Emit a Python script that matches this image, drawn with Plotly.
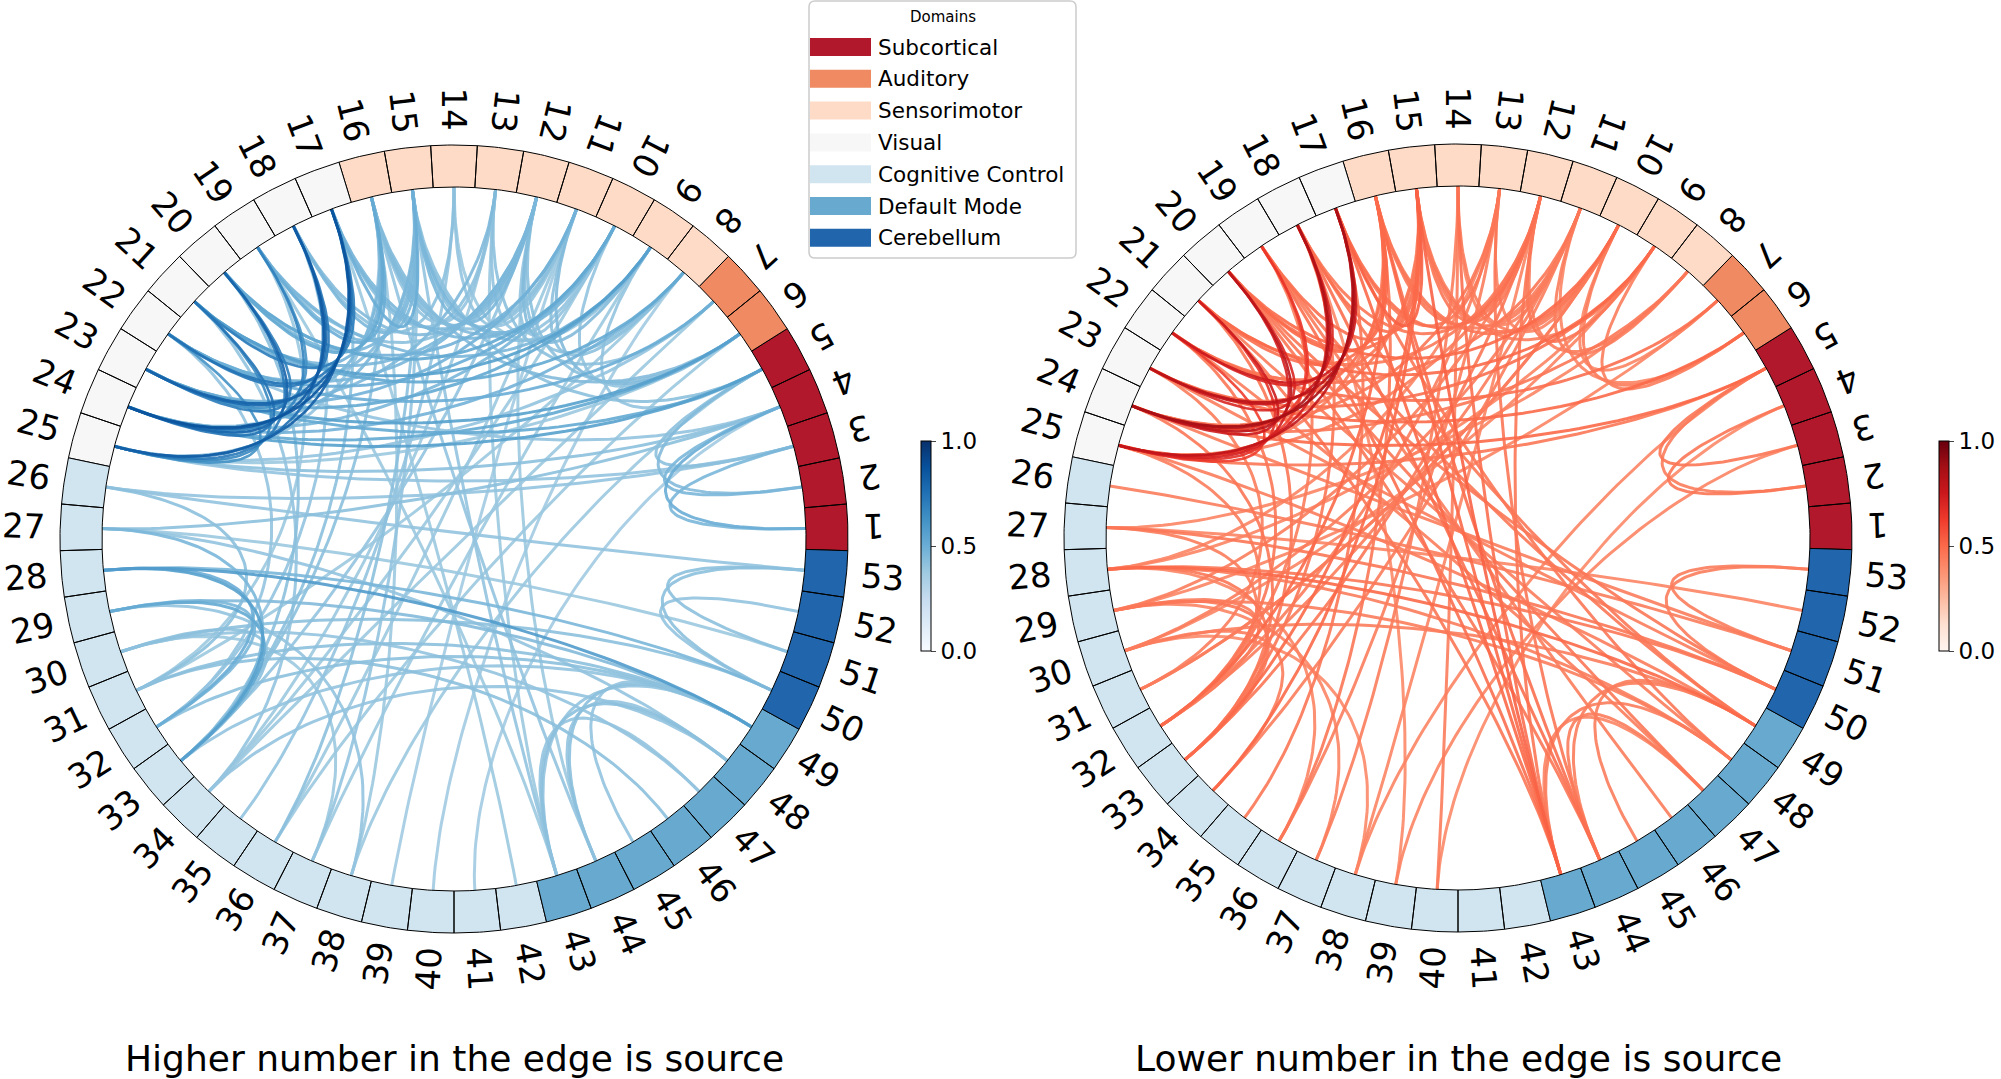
import numpy as np
import plotly.graph_objects as go
from plotly.colors import sample_colorscale

W, H = 2001, 1079
FONT = "DejaVu Sans"

# ---- data ----
node_labels = [str(i) for i in range(1, 54)]

domain_names = ["Subcortical", "Auditory", "Sensorimotor", "Visual",
                "Cognitive Control", "Default Mode", "Cerebellum"]
domain_sizes = [5, 2, 9, 9, 17, 7, 4]
domain_colors = ["#b2182b", "#ef8a62", "#fddbc7", "#f7f7f7",
                 "#d1e5f0", "#67a9cf", "#2166ac"]

# edges as (node a, node b, weight)
left_edges = [
    (17, 24, .86), (17, 25, .82), (17, 23, .80), (17, 22, .74), (17, 21, .70),
    (18, 24, .84), (18, 23, .78), (18, 25, .76), (18, 22, .72), (19, 24, .68),
    (19, 23, .62), (20, 24, .80), (20, 25, .72), (20, 23, .70), (21, 24, .74),
    (21, 25, .66), (22, 25, .62),
    (20, 10, .52), (20, 11, .48), (21, 8, .52), (21, 9, .56), (21, 12, .46),
    (22, 7, .50), (22, 10, .50), (22, 12, .46), (23, 5, .52), (23, 6, .56),
    (23, 9, .52), (23, 11, .48), (24, 5, .56), (24, 6, .52), (24, 8, .48),
    (24, 10, .46), (19, 9, .46), (23, 13, .45),
    (25, 3, .40), (25, 4, .42), (25, 7, .40), (25, 6, .38), (22, 4, .40),
    (17, 15, .50), (17, 13, .42), (17, 12, .46), (17, 10, .46), (18, 15, .46),
    (18, 14, .42), (18, 12, .44), (19, 15, .46), (19, 12, .42), (20, 15, .46),
    (20, 16, .52), (22, 15, .44), (23, 16, .46), (24, 15, .46), (25, 16, .40),
    (21, 16, .48), (19, 16, .50),
    (15, 12, .46), (15, 11, .42), (15, 10, .46), (15, 9, .42), (16, 12, .44),
    (16, 11, .42), (16, 10, .44), (16, 13, .40), (14, 11, .40), (13, 10, .40),
    (12, 9, .44), (12, 8, .42), (12, 10, .40), (11, 8, .42), (14, 9, .38),
    (16, 6, .44), (13, 7, .42), (12, 6, .42), (11, 6, .44), (10, 6, .40),
    (9, 5, .40), (15, 5, .42),
    (1, 4, .50), (1, 3, .46), (2, 4, .46), (2, 5, .44), (3, 5, .42),
    (4, 27, .42), (3, 26, .40),
    (15, 36, .42), (15, 37, .40), (14, 35, .40), (16, 33, .42), (17, 33, .42),
    (13, 34, .38), (12, 33, .40), (18, 32, .40), (19, 31, .38), (11, 36, .38),
    (16, 38, .38), (22, 32, .40), (20, 33, .42), (21, 34, .40), (10, 34, .38),
    (9, 37, .38), (8, 31, .38), (11, 39, .36),
    (15, 43, .40), (16, 44, .40), (19, 43, .38), (13, 43, .38), (12, 44, .38),
    (17, 42, .38),
    (28, 49, .58), (28, 50, .46), (29, 49, .44), (30, 50, .42), (31, 49, .42),
    (27, 48, .40), (26, 53, .40), (27, 51, .38), (32, 49, .42), (33, 49, .40),
    (34, 48, .40), (31, 46, .42), (30, 47, .40),
    (28, 33, .56), (29, 33, .52), (27, 33, .46), (30, 33, .42), (29, 32, .46),
    (28, 32, .50), (26, 31, .42), (30, 37, .38), (29, 38, .40),
    (43, 48, .42), (44, 49, .42), (43, 49, .40), (44, 48, .40), (45, 49, .40),
    (43, 47, .40),
    (53, 51, .42), (53, 50, .42), (52, 50, .40),
    (6, 36, .38), (7, 34, .38), (5, 38, .38), (4, 41, .36), (8, 40, .36),
]

right_edges = [
    (17, 24, .86), (17, 23, .80), (17, 25, .78), (17, 22, .74), (18, 24, .84),
    (18, 23, .76), (18, 25, .72), (18, 22, .70), (20, 24, .80), (20, 25, .72),
    (20, 23, .70), (21, 24, .74), (21, 25, .66), (19, 24, .64), (19, 25, .60),
    (22, 25, .62),
    (20, 10, .50), (21, 9, .50), (22, 7, .48), (23, 6, .50), (24, 5, .50),
    (23, 9, .48), (24, 8, .46), (25, 5, .46), (22, 11, .46), (21, 12, .45),
    (17, 15, .52), (17, 13, .46), (17, 12, .48), (18, 15, .48), (18, 12, .46),
    (19, 15, .48), (20, 15, .48), (20, 16, .50), (22, 15, .46), (23, 16, .48),
    (24, 15, .46), (25, 16, .44), (21, 16, .48), (24, 13, .46), (25, 12, .44),
    (15, 12, .46), (15, 11, .44), (15, 10, .46), (16, 12, .46), (16, 11, .44),
    (16, 10, .46), (14, 11, .42), (12, 9, .46), (12, 8, .44), (11, 8, .44),
    (13, 10, .42), (15, 9, .44), (14, 10, .44),
    (6, 9, .44), (6, 10, .44), (7, 10, .42), (6, 11, .42), (2, 4, .46),
    (3, 5, .46), (2, 5, .44),
    (15, 43, .52), (16, 43, .50), (14, 43, .48), (17, 43, .50), (18, 44, .48),
    (13, 44, .46), (19, 43, .48), (20, 44, .46), (12, 43, .46), (21, 43, .46),
    (16, 44, .48),
    (14, 40, .44), (12, 38, .42), (18, 39, .40),
    (15, 33, .50), (16, 32, .50), (15, 34, .50), (12, 33, .46), (11, 32, .44),
    (13, 36, .44), (17, 35, .46), (10, 31, .44), (18, 33, .46), (14, 37, .44),
    (16, 36, .46), (19, 32, .44), (11, 34, .44), (13, 32, .44), (9, 30, .42),
    (22, 32, .46), (24, 33, .46), (23, 31, .44), (25, 32, .44), (21, 33, .46),
    (19, 49, .46), (20, 50, .46), (18, 49, .46), (21, 48, .44), (22, 47, .44),
    (23, 50, .44), (17, 48, .46), (24, 51, .44), (25, 49, .44), (20, 47, .46),
    (19, 46, .44),
    (28, 49, .50), (27, 50, .46), (28, 50, .46), (29, 48, .44), (26, 51, .44),
    (30, 49, .44), (28, 48, .44), (27, 52, .42),
    (28, 33, .46), (29, 33, .46), (27, 32, .44), (29, 32, .44), (30, 34, .44),
    (28, 36, .42), (29, 37, .42), (30, 38, .40),
    (29, 12, .44), (30, 11, .44), (28, 9, .42), (31, 10, .44), (27, 8, .42),
    (29, 7, .42), (28, 13, .42),
    (43, 48, .44), (44, 49, .44), (44, 47, .44), (45, 49, .44), (43, 47, .42),
    (53, 51, .44), (53, 50, .44),
    (39, 3, .42), (38, 5, .42), (40, 4, .40),
]

panel_titles = ["Higher number in the edge is source",
                "Lower number in the edge is source"]
panel_scales = ["Blues", "Reds"]
cbar_ticks = [0.0, 0.5, 1.0]

# ---- geometry ----
centers = [(454, 539), (1458, 538)]
R_IN, R_OUT = 352, 394
R_TXT = 409
LAB_SIZE = 34
n_nodes = len(node_labels)
step = 360.0 / n_nodes


def node_angle(k):
    # node 14 sits at the top, numbers increase counter-clockwise
    return 90 + (k - 14) * step


def polar(cx, cy, r, deg):
    t = np.deg2rad(deg)
    return cx + r * np.cos(t), cy - r * np.sin(t)


def edge_curve(cx, cy, a, b, k=0.5, n=70):
    p0 = np.array(polar(cx, cy, R_IN, node_angle(a)))
    p3 = np.array(polar(cx, cy, R_IN, node_angle(b)))
    c = np.array([cx, cy])
    c1 = c + k * (p0 - c)
    c2 = c + k * (p3 - c)
    t = np.linspace(0, 1, n)[:, None]
    pts = (1 - t) ** 3 * p0 + 3 * (1 - t) ** 2 * t * c1 + 3 * (1 - t) * t ** 2 * c2 + t ** 3 * p3
    return pts[:, 0], pts[:, 1]


def label_rotation(deg):
    # labels read inwards, except the lower-right quarter which reads outwards
    rot = deg % 360 if deg % 360 >= 270 else deg + 180
    rot = rot % 360
    # plotly textangle is clockwise
    ang = -rot
    while ang <= -180:
        ang += 360
    while ang > 180:
        ang -= 360
    return ang


node_domain = []
for d, size in enumerate(domain_sizes):
    node_domain += [d] * size

fig = go.Figure()
annotations = []

for pi, ((cx, cy), edges, scale) in enumerate(zip(centers, [left_edges, right_edges], panel_scales)):
    # edges, light first so dark ones sit on top
    for a, b, w in sorted(edges, key=lambda e: e[2]):
        xs, ys = edge_curve(cx, cy, a, b)
        col = sample_colorscale(scale, [w])[0]
        fig.add_trace(go.Scatter(x=xs, y=ys, mode="lines",
                                 line=dict(color=col, width=3 if w < 0.6 else 2.6),
                                 opacity=0.9, hoverinfo="skip"))

    # ring segments, one trace per domain
    for d in range(len(domain_names)):
        xs, ys = [], []
        for k in range(1, n_nodes + 1):
            if node_domain[k - 1] != d:
                continue
            th = node_angle(k)
            arc = np.linspace(th - step / 2, th + step / 2, 12)
            ox, oy = polar(cx, cy, R_OUT, arc)
            ix, iy = polar(cx, cy, R_IN, arc[::-1])
            xs += list(ox) + list(ix) + [ox[0], None]
            ys += list(oy) + list(iy) + [oy[0], None]
        fig.add_trace(go.Scatter(x=xs, y=ys, mode="lines", fill="toself",
                                 fillcolor=domain_colors[d],
                                 line=dict(color="black", width=1),
                                 hoverinfo="skip"))

    # node labels
    for k, lab in enumerate(node_labels, start=1):
        th = node_angle(k)
        r = R_TXT + len(lab) * 0.318 * LAB_SIZE
        x, y = polar(cx, cy, r, th)
        annotations.append(dict(x=x, y=y, xref="x", yref="y", text=lab,
                                showarrow=False, textangle=label_rotation(th),
                                xanchor="center", yanchor="middle",
                                font=dict(family=FONT, size=LAB_SIZE, color="black")))

    annotations.append(dict(x=cx, y=1058, xref="x", yref="y", text=panel_titles[pi],
                            showarrow=False, xanchor="center", yanchor="middle",
                            font=dict(family=FONT, size=36, color="black")))

    # colorbar
    cb_x = [921, 1939][pi]
    fig.add_trace(go.Scatter(
        x=[-100], y=[-100], mode="markers", hoverinfo="skip",
        marker=dict(size=1, color=[0], colorscale=scale, cmin=0, cmax=1,
                    showscale=True,
                    colorbar=dict(x=cb_x / W, xanchor="left", xpad=0,
                                  y=1 - 546 / H, yanchor="middle", ypad=0,
                                  thickness=10, len=210, lenmode="pixels",
                                  outlinewidth=1, outlinecolor="black",
                                  ticks="outside", ticklen=5, tickwidth=1,
                                  tickvals=cbar_ticks,
                                  ticktext=[f"{v:.1f}" for v in cbar_ticks],
                                  tickfont=dict(family=FONT, size=23, color="black")))))

# ---- legend (drawn by hand to get wide swatches) ----
lx0, lx1, ly0, ly1, rr = 809, 1076, 1, 258, 6
shapes = [dict(type="path", xref="x", yref="y",
               path=(f"M {lx0 + rr},{ly0} L {lx1 - rr},{ly0} Q {lx1},{ly0} {lx1},{ly0 + rr} "
                     f"L {lx1},{ly1 - rr} Q {lx1},{ly1} {lx1 - rr},{ly1} "
                     f"L {lx0 + rr},{ly1} Q {lx0},{ly1} {lx0},{ly1 - rr} "
                     f"L {lx0},{ly0 + rr} Q {lx0},{ly0} {lx0 + rr},{ly0} Z"),
               line=dict(color="#cccccc", width=1.5), fillcolor="rgba(255,255,255,0.8)",
               layer="above")]
annotations.append(dict(x=(lx0 + lx1) / 2, y=17, xref="x", yref="y", text="Domains",
                        showarrow=False, xanchor="center", yanchor="middle",
                        font=dict(family=FONT, size=15, color="black")))
for i, (name, col) in enumerate(zip(domain_names, domain_colors)):
    yc = 47 + i * 31.8
    shapes.append(dict(type="rect", xref="x", yref="y", x0=810, x1=871,
                       y0=yc - 9, y1=yc + 9, fillcolor=col, line=dict(width=0),
                       layer="above"))
    annotations.append(dict(x=876, y=yc, xref="x", yref="y", text=name,
                            showarrow=False, xanchor="left", yanchor="middle",
                            font=dict(family=FONT, size=21.5, color="black")))

fig.update_layout(
    width=W, height=H,
    margin=dict(l=0, r=0, t=0, b=0, autoexpand=False),
    paper_bgcolor="white", plot_bgcolor="white",
    showlegend=False,
    xaxis=dict(range=[0, W], visible=False, fixedrange=True),
    yaxis=dict(range=[H, 0], visible=False, fixedrange=True),
    shapes=shapes,
    annotations=annotations,
)

# the page body has a default 8px margin; drop it so the figure fills the window
fig.write_html("out.html", config={"displayModeBar": False},
               post_script="document.body.style.margin='0';")
